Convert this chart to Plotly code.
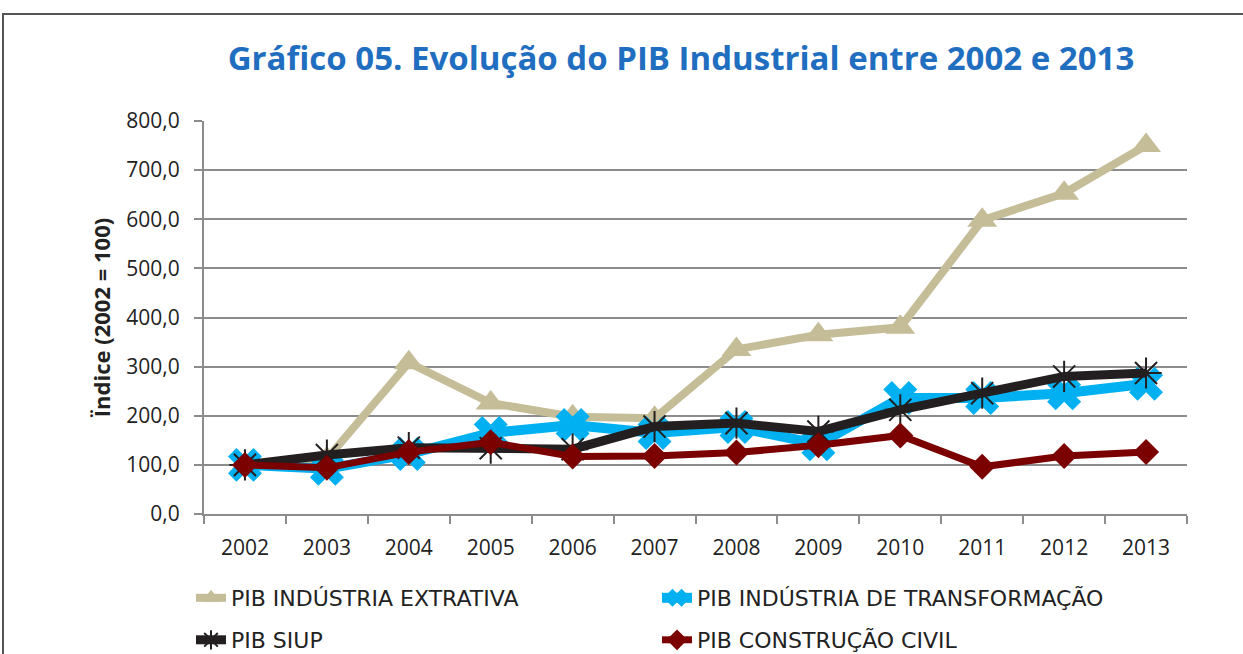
import plotly.graph_objects as go

years = ["2002", "2003", "2004", "2005", "2006", "2007", "2008", "2009", "2010", "2011", "2012", "2013"]
extrativa = [100, 112, 308, 226, 198, 195, 335, 365, 380, 598, 653, 750]
transformacao = [100, 92, 122, 165, 181, 165, 177, 142, 236, 236, 246, 265]
siup = [100, 120, 135, 134, 132, 178, 185, 168, 212, 246, 280, 287]
construcao = [100, 94, 126, 146, 117, 118, 125, 140, 160, 96, 118, 126]

names = ["PIB INDÚSTRIA EXTRATIVA", "PIB INDÚSTRIA DE TRANSFORMAÇÃO", "PIB SIUP", "PIB CONSTRUÇÃO CIVIL"]

FONT = "Open Sans, Noto Sans, sans-serif"
LEGFONT = "DejaVu Sans, Open Sans, sans-serif"

fig = go.Figure()
fig.add_trace(go.Scatter(x=years, y=extrativa, name=names[0], mode="lines+markers",
                         line=dict(color="#C4BD97", width=8),
                         marker=dict(symbol="triangle-up", size=26, color="#C4BD97"),
                         legend="legend"))
fig.add_trace(go.Scatter(x=years, y=transformacao, name=names[1], mode="lines+markers",
                         line=dict(color="#00B0F0", width=10),
                         marker=dict(symbol="x", size=30, color="#00B0F0"),
                         legend="legend"))
fig.add_trace(go.Scatter(x=years, y=siup, name=names[2], mode="lines+markers",
                         line=dict(color="#231F20", width=9),
                         marker=dict(symbol="asterisk-open", size=26, color="#231F20",
                                     line=dict(color="#231F20", width=2)),
                         legend="legend2"))
fig.add_trace(go.Scatter(x=years, y=construcao, name=names[3], mode="lines+markers",
                         line=dict(color="#7B0000", width=7),
                         marker=dict(symbol="diamond", size=20, color="#7B0000"),
                         legend="legend2"))

W, H = 1243, 720
L, R, T, B = 204, 1187, 121, 514
pw, ph = R - L, B - T

def px_x(p):
    return (p - L) / pw

def px_y(p):
    return (B - p) / ph

fig.update_layout(
    width=W, height=H,
    margin=dict(l=L, r=W - R, t=T, b=H - B),
    paper_bgcolor="white", plot_bgcolor="white",
    font=dict(family=FONT, color="#222222", size=21),
    separators=",.",
    title=dict(text="<b>Gráfico 05. Evolução do PIB Industrial entre 2002 e 2013</b>",
               font=dict(family=FONT, size=33, color="#1F6EC0"),
               x=681 / W, xanchor="center", y=1 - 58 / H, yanchor="middle"),
    xaxis=dict(type="category", showgrid=False, showline=True, linecolor="#8C8C8C", linewidth=2,
               ticks="outside", tickson="boundaries", ticklen=8, tickcolor="#8C8C8C", tickwidth=2,
               tickfont=dict(size=21), ticklabelstandoff=14, range=[-0.5, 11.5]),
    yaxis=dict(range=[0, 800], dtick=100, tickformat=".1f", showgrid=True, gridcolor="#8C8C8C",
               gridwidth=2, showline=True, linecolor="#8C8C8C", linewidth=2, ticks="outside",
               ticklen=8, tickcolor="#8C8C8C", tickwidth=2, tickfont=dict(size=21),
               ticklabelstandoff=10, zeroline=False,
               title=dict(text="<b>Ïndice (2002 = 100)</b>", font=dict(size=22), standoff=10)),
    legend=dict(orientation="h", x=px_x(191), y=px_y(598), yanchor="middle", xanchor="left",
                entrywidth=421, entrywidthmode="pixels", font=dict(family=LEGFONT, size=22),
                itemwidth=30, bgcolor="rgba(0,0,0,0)"),
    legend2=dict(orientation="h", x=px_x(191), y=px_y(640), yanchor="middle", xanchor="left",
                 entrywidth=421, entrywidthmode="pixels", font=dict(family=LEGFONT, size=22),
                 itemwidth=30, bgcolor="rgba(0,0,0,0)"),
    shapes=[dict(type="rect", xref="paper", yref="paper",
                 x0=px_x(3), x1=px_x(1260), y0=px_y(715), y1=px_y(14),
                 line=dict(color="#555555", width=2), fillcolor="rgba(0,0,0,0)", layer="below")],
)

fig.write_html("out.html", config={"displayModeBar": False},
               post_script="document.body.style.margin='0';document.body.style.overflow='hidden';")
